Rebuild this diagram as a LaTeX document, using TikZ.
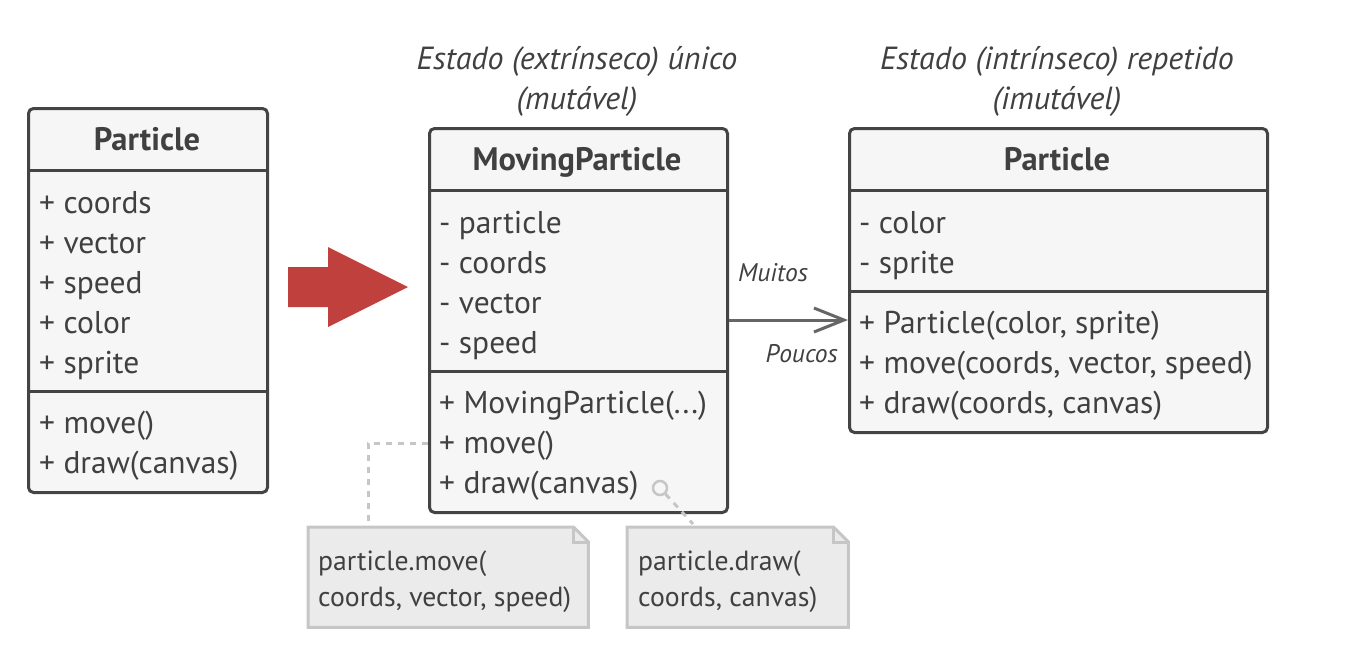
\documentclass[tikz,border=0pt]{standalone}
\usepackage{fontspec}
\setmainfont{PT Sans}
\usetikzlibrary{arrows.meta,calc}
\definecolor{txt}{HTML}{404040}
\definecolor{boxline}{HTML}{444444}
\definecolor{boxfill}{HTML}{F6F6F6}
\definecolor{notefill}{HTML}{EBEBEB}
\definecolor{noteline}{HTML}{C6C6C6}
\definecolor{bigred}{HTML}{C0403E}
\definecolor{assoccol}{HTML}{666666}
\tikzset{
  umlbox/.style={draw=boxline, fill=boxfill, line width=3pt, rounded corners=5pt, inner sep=0pt, anchor=north west},
  sepline/.style={draw=boxline, line width=3pt},
  member/.style={anchor=base west, inner sep=0pt, text=txt, font=\fontsize{31.5}{38}\selectfont},
  title/.style={anchor=base, inner sep=0pt, text=txt, font=\fontsize{32.5}{38}\selectfont\bfseries},
  caption/.style={anchor=base, inner sep=0pt, text=txt, font=\fontsize{32}{38}\selectfont\itshape},
  mult/.style={inner sep=0pt, text=txt, font=\fontsize{25.5}{30}\selectfont\itshape},
  notebox/.style={inner sep=0pt, anchor=north west},
  noteshape/.style={draw=noteline, fill=notefill, line width=3pt},
  notetext/.style={anchor=base west, inner sep=0pt, text=txt, font=\fontsize{27.7}{33}\selectfont},
  notelink/.style={draw=noteline, line width=3pt, dash pattern=on 6pt off 6pt},
  assoc/.style={draw=assoccol, line width=3pt, -{Straight Barb[length=30pt,width=24pt,line width=3pt]}},
}
\begin{document}
\begin{tikzpicture}[x=1pt,y=-1pt]
\useasboundingbox (0,0) rectangle (1366,656);

% Left Particle
\node[umlbox, minimum width=239, minimum height=384] (L) at (27,107) {};
\draw[sepline] (27,170) -- (266,170);
\draw[sepline] (27,391) -- (266,391);
\node[title] (Lt) at (147,150) {Particle};
\node[member] (L1) at (39,213) {+ coords};
\node[member] (L2) at (39,253) {+ vector};
\node[member] (L3) at (39,293) {+ speed};
\node[member] (L4) at (39,333) {+ color};
\node[member] (L5) at (39,373) {+ sprite};
\node[member] (L6) at (39,433) {+ move()};
\node[member] (L7) at (39,473) {+ draw(canvas)};

% Red arrow
\fill[bigred] (288,267) -- (328,267) -- (328,247) -- (408,287) -- (328,327) -- (328,307) -- (288,307) -- cycle;

% Captions
\node[caption] (C1) at (577,69) {Estado (extrínseco) único};
\node[caption] (C2) at (577,109) {(mutável)};
\node[caption] (C3) at (1057,69) {Estado (intrínseco) repetido};
\node[caption] (C4) at (1057,109) {(imutável)};

% MovingParticle
\node[umlbox, minimum width=298, minimum height=384] (M) at (428,127) {};
\draw[sepline] (428,190) -- (726,190);
\draw[sepline] (428,371) -- (726,371);
\node[title] (Mt) at (577,170) {MovingParticle};
\node[member] (M1) at (439,233) {- particle};
\node[member] (M2) at (439,273) {- coords};
\node[member] (M3) at (439,313) {- vector};
\node[member] (M4) at (439,353) {- speed};
\node[member] (M5) at (439,413) {+ MovingParticle(...)};
\node[member] (M6) at (439,453) {+ move()};
\node[member] (M7) at (439,493) {+ draw(canvas)};

% Right Particle
\node[umlbox, minimum width=418, minimum height=304] (R) at (848,127) {};
\draw[sepline] (848,190) -- (1266,190);
\draw[sepline] (848,291) -- (1266,291);
\node[title] (Rt) at (1057,170) {Particle};
\node[member] (R1) at (859,233) {- color};
\node[member] (R2) at (859,273) {- sprite};
\node[member] (R3) at (859,333) {+ Particle(color, sprite)};
\node[member] (R4) at (859,373) {+ move(coords, vector, speed)};
\node[member] (R5) at (859,413) {+ draw(coords, canvas)};

% Association
\draw[assoc] (M.east |- 0,320) -- (R.west |- 0,320);
\node[mult, anchor=base west] (mu) at (738,281) {Muitos};
\node[mult, anchor=base east] (po) at (838,362) {Poucos};

% Notes
\node[notebox, minimum width=280, minimum height=100] (n1) at (308,527) {};
\draw[noteshape] (n1.north west) -- ($(n1.north east)+(-15,0)$) -- ($(n1.north east)+(0,15)$) -- (n1.south east) -- (n1.south west) -- cycle;
\draw[draw=noteline, line width=3pt] ($(n1.north east)+(-15,0)$) -- ($(n1.north east)+(-15,15)$) -- ($(n1.north east)+(0,15)$);
\node[notetext] (n1a) at (318,570) {particle.move(};
\node[notetext] (n1b) at (318,606) {coords, vector, speed)};

\node[notebox, minimum width=221, minimum height=100] (n2) at (627,527) {};
\draw[noteshape] (n2.north west) -- ($(n2.north east)+(-15,0)$) -- ($(n2.north east)+(0,15)$) -- (n2.south east) -- (n2.south west) -- cycle;
\draw[draw=noteline, line width=3pt] ($(n2.north east)+(-15,0)$) -- ($(n2.north east)+(-15,15)$) -- ($(n2.north east)+(0,15)$);
\node[notetext] (n2a) at (638,570) {particle.draw(};
\node[notetext] (n2b) at (638,606) {coords, canvas)};

% Note links
\draw[notelink] (M.west |- 0,443) -| ($(n1.north -| 368,0)+(0,-6)$);
\node[circle, draw=noteline, line width=2.5pt, minimum size=14pt, inner sep=0pt] (c2) at (660,488) {};
\draw[notelink] (c2) -- ($(n2.north -| 693,0)+(0,-3)$);
\end{tikzpicture}
\end{document}
